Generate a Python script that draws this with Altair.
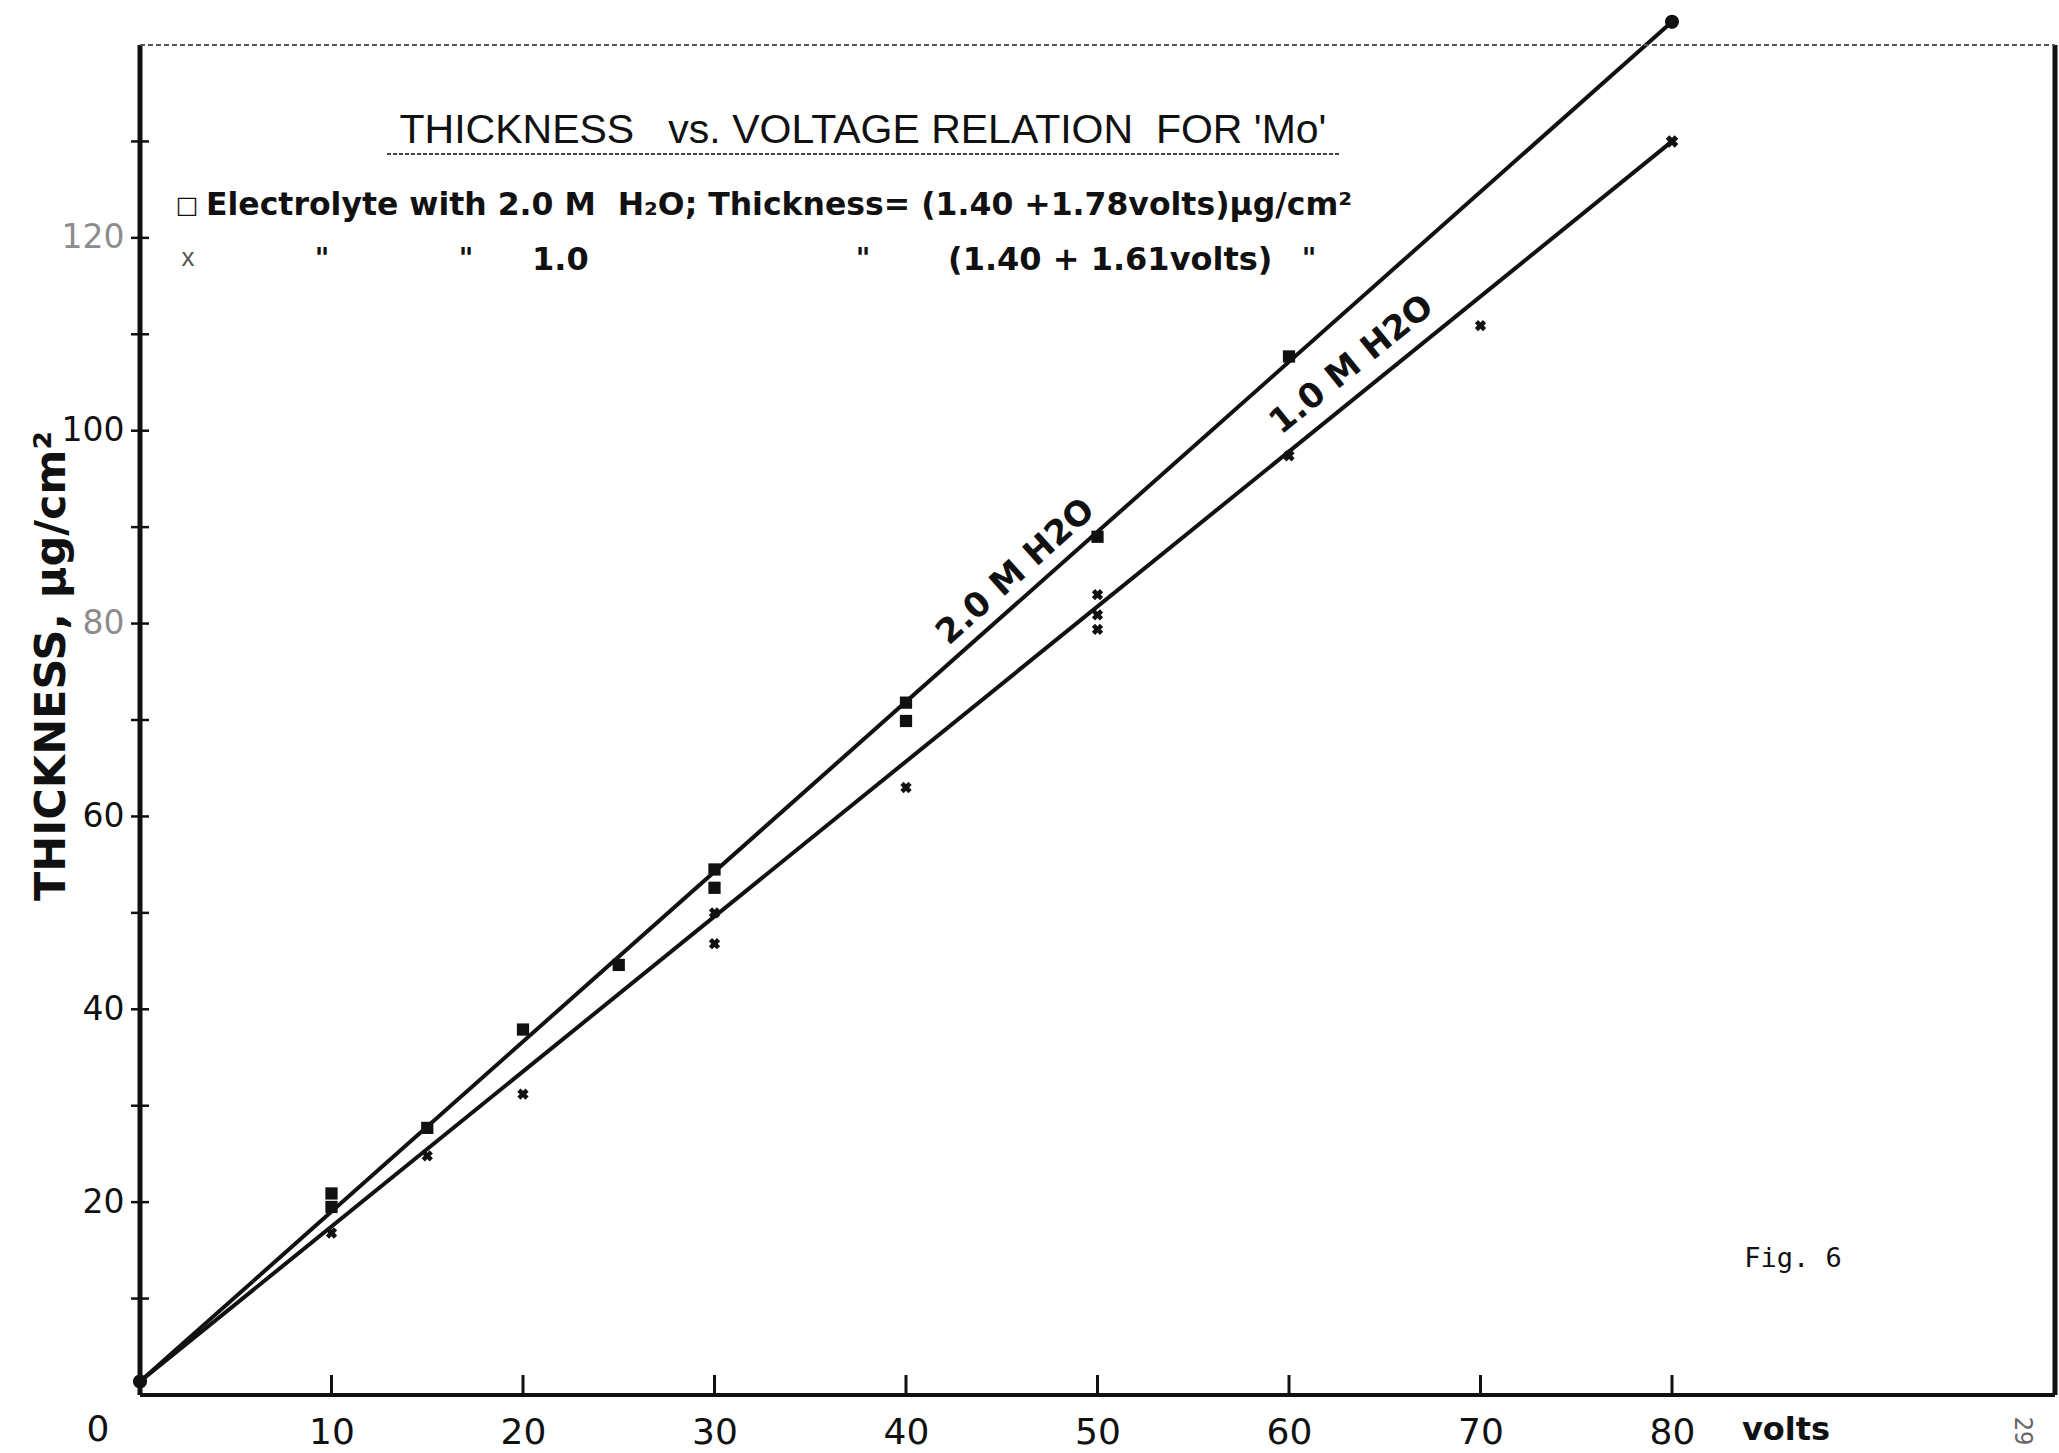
import altair as alt
import pandas as pd

# ---- data ----
volts_2M = [10, 10, 15, 20, 25, 30, 30, 40, 40, 50, 60]
thick_2M = [20.9, 19.5, 27.7, 37.9, 44.6, 54.5, 52.6, 71.8, 69.9, 89.0, 107.7]

volts_1M = [10, 15, 20, 30, 30, 40, 50, 50, 50, 60, 70]
thick_1M = [16.8, 24.8, 31.2, 50.0, 46.8, 63.0, 83.0, 80.9, 79.4, 97.4, 110.9]

fit_volts = [0, 80]
fit_2M = [1.4, 142.4]
fit_1M = [1.4, 130.0]

x_tick_values = [10, 20, 30, 40, 50, 60, 70, 80]
y_label_values = [20, 40, 60, 80, 100, 120]
y_tick_values = [10, 20, 30, 40, 50, 60, 70, 80, 90, 100, 110, 120, 130]

# ---- tables built from the arrays ----
pts2 = pd.DataFrame({"volts": volts_2M, "thickness": thick_2M})
pts1 = pd.DataFrame({"volts": volts_1M, "thickness": thick_1M})
fit = pd.DataFrame({
    "series": ["2.0 M"] * len(fit_volts) + ["1.0 M"] * len(fit_volts),
    "volts": fit_volts + fit_volts,
    "thickness": fit_2M + fit_1M,
})
xt = pd.DataFrame({"volts": x_tick_values})
yt = pd.DataFrame({"thickness": y_tick_values})

W, H = 1915, 1350
INK = "#111111"

xs = alt.Scale(domain=[0, 100], nice=False, zero=False)
ys = alt.Scale(domain=[0, 140], nice=False)

X = alt.X("volts:Q", scale=xs, axis=alt.Axis(
    values=x_tick_values, domain=False, ticks=False, grid=False,
    labelFont="DejaVu Sans", labelFontSize=36, labelColor=INK,
    labelPadding=20, title=None))
Y = alt.Y("thickness:Q", scale=ys, axis=alt.Axis(
    values=y_label_values, domain=False, ticks=False, grid=False,
    labelFont="DejaVu Sans", labelFontSize=33, labelPadding=16,
    labelColor={"condition": {"test": "datum.value == 80 || datum.value == 120",
                              "value": "#8c8c8c"}, "value": INK},
    title=None))

one = pd.DataFrame({"k": [0]})


def rule(x, x2, y, y2, **kw):
    return alt.Chart(one).mark_rule(**kw).encode(
        x=alt.value(x), x2=alt.value(x2), y=alt.value(y), y2=alt.value(y2))


def label(text, x, y, **kw):
    return alt.Chart(pd.DataFrame({"t": [text]})).mark_text(**kw).encode(
        x=alt.value(x), y=alt.value(y), text="t:N")


# fitted lines
lines = alt.Chart(fit).mark_line(color=INK, strokeWidth=4).encode(
    x=X, y=Y, detail="series:N")

# measured points
p2 = alt.Chart(pts2).mark_point(shape="square", filled=True, size=150,
                                color=INK, opacity=1).encode(x=X, y=Y)
p1 = alt.Chart(pts1).mark_point(shape="cross", filled=True, size=130, angle=45,
                                color=INK, opacity=1).encode(x=X, y=Y)

# line end markers
end2 = alt.Chart(fit).transform_filter("datum.series == '2.0 M'").mark_point(
    shape="circle", filled=True, size=200, color=INK, opacity=1).encode(x=X, y=Y)
end1 = alt.Chart(fit).transform_filter("datum.series == '1.0 M'").mark_point(
    shape="cross", filled=True, size=160, angle=45, color=INK, opacity=1).encode(x=X, y=Y)

# ticks crossing / inside the axes
yticks = alt.Chart(yt).mark_rule(color=INK, strokeWidth=2.5).encode(
    y=Y, x=alt.value(-9), x2=alt.value(9))
xticks = alt.Chart(xt).mark_rule(color=INK, strokeWidth=3).encode(
    x=X, y=alt.value(H), y2=alt.value(H - 20))

# frame
frame = [
    rule(0, 0, 0, H, color=INK, strokeWidth=5),
    rule(0, W, H, H, color=INK, strokeWidth=4),
    rule(W, W, 0, H, color=INK, strokeWidth=5),
    rule(0, W, 0, 0, color="#555555", strokeWidth=2, strokeDash=[5, 3]),
]

NB = "\u00a0"
TF = "Liberation Sans"
LF = "DejaVu Sans"
texts = [
    label(f"THICKNESS{NB}{NB} vs. VOLTAGE RELATION{NB} FOR 'Mo'", 723, 86,
          font=TF, fontSize=41, color=INK, align="center", baseline="middle"),
    rule(247, 1199, 109, 109, color="#444444", strokeWidth=2, strokeDash=[4, 2]),
    label("\u25a1", 47, 161, font=LF, fontSize=24, color=INK,
          align="center", baseline="middle"),
    label(f"Electrolyte with 2.0 M{NB} H\u2082O; Thickness= (1.40 +1.78volts)\u03bcg/cm\u00b2",
          66, 161, font=LF, fontSize=31.5, fontWeight="bold", color=INK,
          align="left", baseline="middle"),
    label("x", 48, 213, font=TF, fontSize=26, color="#555555",
          align="center", baseline="middle"),
    label("\"", 182, 215, font=LF, fontSize=28, fontWeight="bold", color=INK,
          align="center", baseline="middle"),
    label("\"", 326, 215, font=LF, fontSize=28, fontWeight="bold", color=INK,
          align="center", baseline="middle"),
    label("1.0", 392, 215, font=LF, fontSize=32, fontWeight="bold", color=INK,
          align="left", baseline="middle"),
    label("\"", 723, 215, font=LF, fontSize=28, fontWeight="bold", color=INK,
          align="center", baseline="middle"),
    label("(1.40 + 1.61volts)", 808, 215, font=LF, fontSize=32, fontWeight="bold",
          color=INK, align="left", baseline="middle"),
    label("\"", 1169, 215, font=LF, fontSize=28, fontWeight="bold", color=INK,
          align="center", baseline="middle"),
    label("2.0 M H2O", 876, 527, font=LF, fontSize=34, fontWeight="bold",
          color=INK, align="center", baseline="middle", angle=318),
    label("1.0 M H2O", 1212, 320, font=LF, fontSize=34, fontWeight="bold",
          color=INK, align="center", baseline="middle", angle=321),
    label("THICKNESS, \u03bcg/cm\u00b2", -88, 621, font=LF, fontSize=43,
          fontWeight="bold", color=INK, align="center", baseline="middle", angle=270),
    label("0", -42, 1385, font=LF, fontSize=36, color=INK,
          align="center", baseline="middle"),
    label("volts", 1646, 1385, font=LF, fontSize=32, fontWeight="bold",
          color=INK, align="center", baseline="middle"),
    label("Fig. 6", 1653, 1214, font="DejaVu Sans Mono", fontSize=27, color=INK,
          align="center", baseline="middle"),
    label("29", 1882, 1386, font="DejaVu Sans Mono", fontSize=24, color="#666666",
          align="center", baseline="middle", angle=90),
]

chart = alt.layer(
    lines, p2, p1, end2, end1, yticks, xticks, *frame, *texts
).properties(
    width=W, height=H,
    autosize=alt.AutoSizeParams(type="none"),
    padding={"left": 140, "top": 45, "right": 4, "bottom": 58},
    background="white",
).configure_view(stroke=None)

chart.save("out.html", embed_options={"renderer": "svg", "actions": False})
